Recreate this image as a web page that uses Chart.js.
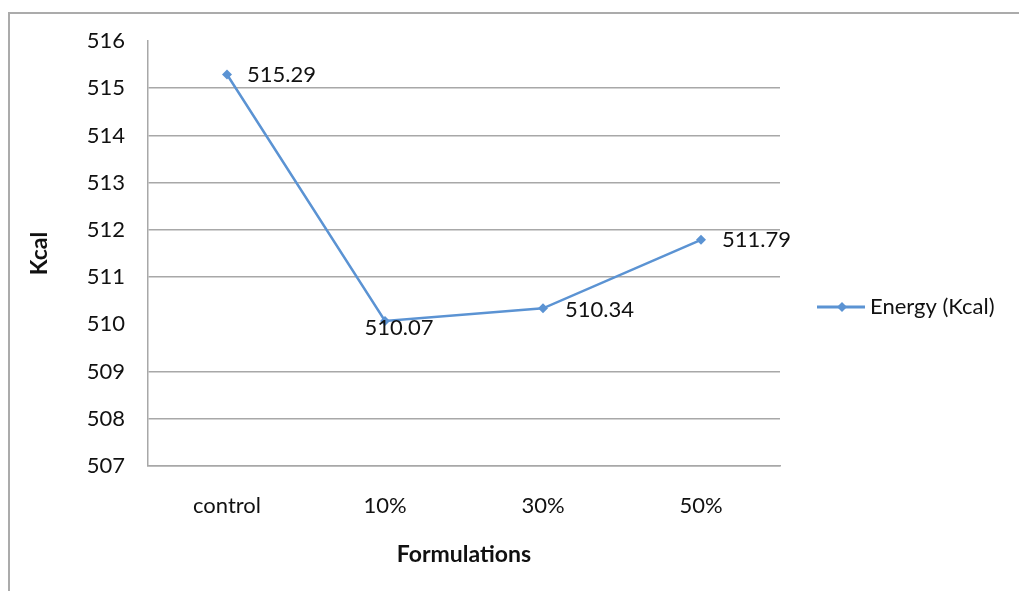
<!DOCTYPE html>
<html>
<head>
<meta charset="utf-8">
<script src="https://cdn.jsdelivr.net/npm/chart.js@4.4.1/dist/chart.umd.min.js"></script>
<style>
  html, body { margin: 0; padding: 0; background: #fff; }
  #wrap { position: relative; width: 1019px; height: 591px; overflow: hidden; }
  #frame { position: absolute; left: 8px; top: 12px; width: 1100px; height: 700px;
           border-left: 2px solid #ababab; border-top: 2px solid #ababab; }
  #c { position: absolute; left: 0; top: 0; }
</style>
</head>
<body>
<div id="wrap">
  <div id="frame"></div>
  <canvas id="c" width="1019" height="591"></canvas>
</div>
<script>
// ---- data ----
const categories = ["control", "10%", "30%", "50%"];
const energyValues = [515.29, 510.07, 510.34, 511.79];
const seriesLabel = "Energy (Kcal)";
const yTicks = [507, 508, 509, 510, 511, 512, 513, 514, 515, 516];
const hiddenGridValues = [510, 516];

// ---- style ----
const FONT = "Lato, 'Open Sans', 'DejaVu Sans', sans-serif";
const FS = 22;
const LINE_COLOR = "#5b93d3";
const GRID_COLOR = "#a8a8a8";
const TEXT_COLOR = "#111111";
// label placement per point: [dx, dy, align]
const labelPlacement = [[20, 0, "left"], [14, 7, "center"], [22, 2, "left"], [21, 0, "left"]];

const dataLabelsPlugin = {
  id: "dataLabels",
  afterDatasetsDraw(chart) {
    const ctx = chart.ctx;
    const meta = chart.getDatasetMeta(0);
    ctx.save();
    ctx.font = FS + "px " + FONT;
    ctx.fillStyle = TEXT_COLOR;
    ctx.textBaseline = "middle";
    meta.data.forEach((pt, i) => {
      const p = labelPlacement[i];
      ctx.textAlign = p[2];
      ctx.fillText(energyValues[i].toFixed(2), pt.x + p[0], pt.y + p[1]);
    });
    ctx.restore();
  }
};

const legendPlugin = {
  id: "lineLegend",
  afterDraw(chart) {
    const ctx = chart.ctx;
    const ds = chart.data.datasets[0];
    const x0 = chart.chartArea.right + 37, y = 307;
    ctx.save();
    ctx.strokeStyle = ds.borderColor;
    ctx.lineWidth = 3;
    ctx.beginPath();
    ctx.moveTo(x0, y);
    ctx.lineTo(x0 + 48, y);
    ctx.stroke();
    ctx.fillStyle = ds.borderColor;
    ctx.beginPath();
    const cx = x0 + 25, r = 5;
    ctx.moveTo(cx, y - r); ctx.lineTo(cx + r, y); ctx.lineTo(cx, y + r); ctx.lineTo(cx - r, y);
    ctx.closePath();
    ctx.fill();
    ctx.font = FS + "px " + FONT;
    ctx.fillStyle = TEXT_COLOR;
    ctx.textBaseline = "middle";
    ctx.textAlign = "left";
    ctx.fillText(ds.label, x0 + 53, y);
    ctx.restore();
  }
};

new Chart(document.getElementById("c"), {
  type: "line",
  data: {
    labels: categories,
    datasets: [{
      label: seriesLabel,
      data: energyValues,
      borderColor: LINE_COLOR,
      backgroundColor: LINE_COLOR,
      borderWidth: 2.5,
      pointStyle: "rectRot",
      pointRadius: 5,
      pointBorderWidth: 0,
      tension: 0,
      fill: false
    }]
  },
  options: {
    responsive: false,
    animation: false,
    layout: { padding: { top: 41, right: 239, left: 0, bottom: 0 } },
    plugins: {
      legend: { display: false },
      tooltip: { enabled: false }
    },
    scales: {
      x: {
        offset: true,
        grid: { display: false, drawTicks: false },
        border: { display: true, color: GRID_COLOR, width: 1.5 },
        ticks: { color: TEXT_COLOR, font: { family: FONT, size: FS }, padding: 27 },
        title: { display: true, text: "Formulations", color: TEXT_COLOR,
                 font: { family: FONT, size: 23, weight: "bold" }, padding: { top: 0, bottom: 23 } },
        afterFit(scale) { scale.height = 125; }
      },
      y: {
        min: yTicks[0],
        max: yTicks[yTicks.length - 1],
        afterBuildTicks(scale) { scale.ticks = yTicks.map(v => ({ value: v })); },
        grid: {
          drawTicks: false,
          lineWidth: 1.5,
          color: (c) => hiddenGridValues.includes(c.tick && c.tick.value) ? "rgba(0,0,0,0)" : GRID_COLOR
        },
        border: { display: true, color: GRID_COLOR, width: 1.5 },
        ticks: { color: TEXT_COLOR, font: { family: FONT, size: FS }, padding: 23 },
        title: { display: true, text: "Kcal", color: TEXT_COLOR,
                 font: { family: FONT, size: 23, weight: "bold" }, padding: { top: 26, bottom: 0 } },
        afterFit(scale) { scale.width = 148; }
      }
    }
  },
  plugins: [dataLabelsPlugin, legendPlugin]
});
</script>
</body>
</html>
